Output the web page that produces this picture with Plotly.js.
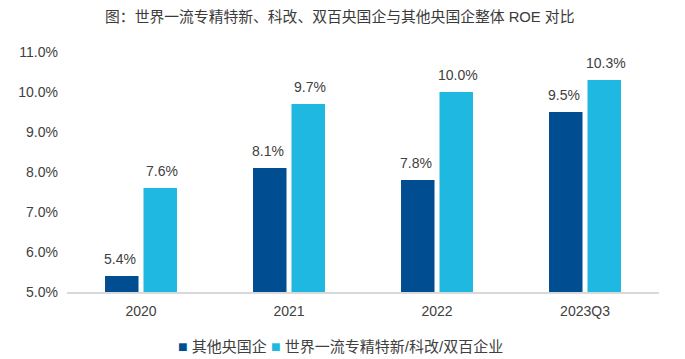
<!DOCTYPE html>
<html><head><meta charset="utf-8">
<script src="https://cdn.plot.ly/plotly-3.0.1.min.js"></script>
<style>html,body{margin:0;padding:0;background:#fff}#chart{width:685px;height:359px}</style>
</head><body><div id="chart"></div>
<script>
const categories = ['2020', '2021', '2022', '2023Q3'];
const otherSOE = [5.4, 8.1, 7.8, 9.5];
const worldClass = [7.6, 9.7, 10.0, 10.3];
const seriesNames = ['其他央国企', '世界一流专精特新/科改/双百企业'];
const colors = ['#004E91', '#1EB8E0'];
const FONT = '"Liberation Sans", Arial, "Noto Sans CJK SC", sans-serif';

const mk = (vals, name, color) => ({
  type: 'bar', x: categories, y: vals, name: name,
  marker: {color: color}, hoverinfo: 'skip'
});

// data labels above bars, offset to the left/right bar in each group
const labelAnn = [];
[otherSOE, worldClass].forEach((vals, si) => {
  vals.forEach((v, i) => {
    labelAnn.push({
      x: i, xref: 'x', y: v, yref: 'y', text: v.toFixed(1) + '%',
      showarrow: false, yanchor: 'bottom', yshift: 7,
      xshift: si === 0 ? -21 : 21,
      font: {size: 14, color: '#404040', family: FONT}
    });
  });
});

const sq = c => '<span style="color:' + c + ';font-size:16px">■</span>';
const legendText = sq(colors[0]) + ' ' + seriesNames[0] + ' ' + sq(colors[1]) + ' ' + seriesNames[1];

Plotly.newPlot('chart', [
  mk(otherSOE, seriesNames[0], colors[0]),
  mk(worldClass, seriesNames[1], colors[1])
], {
  width: 685, height: 359,
  margin: {l: 67, r: 26, t: 52, b: 67, autoexpand: false},
  paper_bgcolor: '#fff', plot_bgcolor: '#fff',
  font: {family: FONT, color: '#404040', size: 14},
  title: {text: '图：世界一流专精特新、科改、双百央国企与其他央国企整体 ROE 对比',
    x: 0.496, xanchor: 'center', y: 0.952, yanchor: 'middle',
    font: {size: 14.8, color: '#3a3a3a', family: FONT}},
  barmode: 'group', bargap: 0.48, bargroupgap: 0.13,
  xaxis: {type: 'category', showline: true, linecolor: '#d9d9d9', linewidth: 1.5, ticks: '',
    ticklabelstandoff: 6,
    tickfont: {size: 14, color: '#404040'}, fixedrange: true},
  yaxis: {range: [5, 11], dtick: 1, tick0: 5, tickformat: '.1f', ticksuffix: '%',
    showgrid: false, zeroline: false, showline: false, ticks: '',
    ticklabelstandoff: 8,
    tickfont: {size: 14, color: '#404040'}, fixedrange: true},
  showlegend: false,
  annotations: labelAnn.concat([{
    xref: 'paper', yref: 'paper', x: 0.462, y: -0.228, xanchor: 'center', yanchor: 'middle',
    text: legendText, showarrow: false, font: {size: 15, color: '#404040', family: FONT}
  }])
}, {displayModeBar: false, staticPlot: true});
</script></body></html>
